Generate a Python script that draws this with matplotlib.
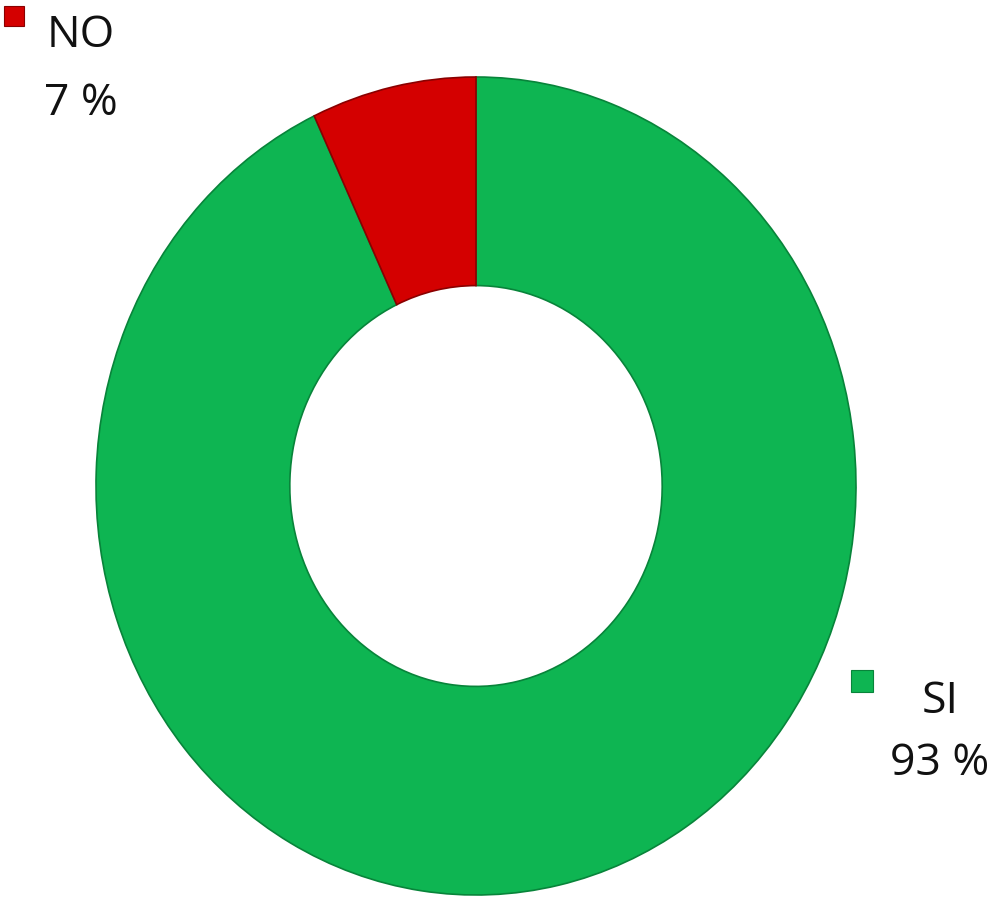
import matplotlib.pyplot as plt
from matplotlib.lines import Line2D

# Dati del grafico
labels = ['SI', 'NO']
values = [93, 7]
colors = ['#0EB552', '#D40000']
edge_colors = ['#08843a', '#8a0000']

W, H = 992, 899
fig = plt.figure(figsize=(W / 100, H / 100), dpi=100)
plt.rcParams['font.family'] = ['Open Sans', 'DejaVu Sans']

# Assi posizionati in pixel: l'anello è leggermente ellittico
left, right, top, bottom = 96, 856, 77, 895
ax = fig.add_axes([left / W, (H - bottom) / H, (right - left) / W, (bottom - top) / H])
wedges, _ = ax.pie(values, colors=colors, startangle=90, counterclock=False,
                   radius=1.0, wedgeprops=dict(width=0.51, linewidth=1.2))
for w, ec in zip(wedges, edge_colors):
    w.set_edgecolor(ec)
ax.set_aspect('auto')
ax.set_xlim(-1.0, 1.0)
ax.set_ylim(-1.0, 1.0)
ax.axis('off')

# Etichette tipo legenda
def px(x, y):
    return x / W, 1 - y / H

label_pos = {'NO': (81, 47, 115, 14, 16, 20), 'SI': (940, 713, 775, 862, 681, 23)}
for lab, val, col, ec in zip(labels, values, colors, edge_colors):
    cx, y1, y2, mx, my, ms = label_pos[lab]
    fig.text(*px(cx, y1), lab, ha='center', va='baseline', fontsize=32, color='#111111')
    fig.text(*px(cx, y2), f'{val} %', ha='center', va='baseline', fontsize=32, color='#111111')
    fig.add_artist(Line2D([px(mx, my)[0]], [px(mx, my)[1]], marker='s', markersize=ms * 0.72,
                          markerfacecolor=col, markeredgecolor=ec, markeredgewidth=0.8,
                          transform=fig.transFigure))

fig.savefig('out.png', dpi=100, facecolor='white')
